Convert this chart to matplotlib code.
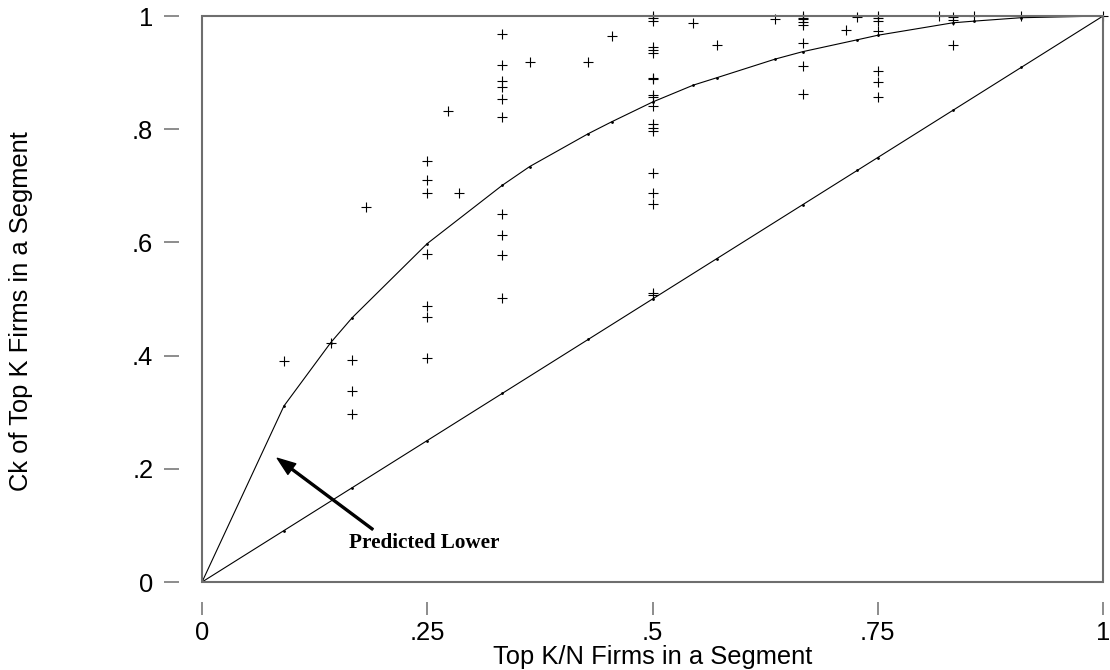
import matplotlib.pyplot as plt
from matplotlib.patches import Rectangle

# observed Ck values for top K of N firms in a segment
obs_x = [1/11, 1/7, 1/6, 1/6, 1/6, 2/11,
         1/4, 1/4, 1/4, 1/4, 1/4, 1/4, 1/4, 3/11, 2/7,
         1/3, 1/3, 1/3, 1/3, 1/3, 1/3, 1/3, 1/3, 1/3, 1/3,
         4/11, 3/7, 5/11,
         1/2, 1/2, 1/2, 1/2, 1/2, 1/2, 1/2, 1/2, 1/2, 1/2,
         1/2, 1/2, 1/2, 1/2, 1/2, 1/2, 1/2, 1/2, 1/2,
         6/11, 4/7, 7/11,
         2/3, 2/3, 2/3, 2/3, 2/3, 2/3, 2/3, 2/3,
         5/7, 8/11,
         3/4, 3/4, 3/4, 3/4, 3/4, 3/4, 3/4,
         9/11, 5/6, 5/6, 5/6, 6/7, 10/11, 1.0]
obs_y = [0.391, 0.423, 0.392, 0.338, 0.296, 0.662,
         0.743, 0.710, 0.688, 0.580, 0.488, 0.469, 0.395, 0.833, 0.687,
         0.968, 0.913, 0.886, 0.874, 0.853, 0.822, 0.650, 0.613, 0.578, 0.502,
         0.918, 0.918, 0.965,
         1.000, 0.996, 0.992, 0.946, 0.940, 0.935, 0.891, 0.889, 0.860, 0.857,
         0.841, 0.809, 0.803, 0.796, 0.722, 0.688, 0.667, 0.511, 0.507,
         0.987, 0.949, 0.995,
         1.000, 0.997, 0.994, 0.990, 0.984, 0.952, 0.912, 0.863,
         0.975, 0.999,
         1.000, 0.996, 0.992, 0.974, 0.903, 0.884, 0.857,
         1.000, 0.998, 0.993, 0.949, 1.000, 1.000, 1.000]

# predicted lower bound curve
curve_x = [0, 1/11, 1/7, 1/6, 1/4, 1/3, 4/11, 3/7, 5/11, 1/2, 6/11, 4/7,
           7/11, 2/3, 8/11, 3/4, 5/6, 6/7, 10/11, 1]
curve_y = [0, 0.311, 0.423, 0.467, 0.598, 0.701, 0.734, 0.792, 0.813, 0.848,
           0.878, 0.891, 0.924, 0.937, 0.958, 0.966, 0.988, 0.991, 0.997, 1.0]

# equality line
diag = [0, 1/11, 1/6, 1/4, 1/3, 3/7, 1/2, 4/7, 2/3, 8/11, 3/4, 5/6, 10/11, 1]

xticks = [0, 0.25, 0.5, 0.75, 1]
xtick_labels = ['0', '.25', '.5', '.75', '1']
yticks = [0, 0.2, 0.4, 0.6, 0.8, 1]
ytick_labels = ['0', '.2', '.4', '.6', '.8', '1']

plt.rcParams['font.family'] = ['Liberation Sans', 'DejaVu Sans']

fig = plt.figure(figsize=(11.1, 6.7), dpi=100)
ax = fig.add_axes([0.182, 0.1313, 0.8117, 0.8448])

ax.plot(diag, diag, color='black', lw=0.8, marker='.', markersize=2)
ax.plot(curve_x, curve_y, color='black', lw=0.8, marker='.', markersize=2)
ax.plot(obs_x, obs_y, ls='none', marker='+', color='black',
        markersize=7, markeredgewidth=0.8, clip_on=False)

ax.set_xlim(0, 1)
ax.set_ylim(0, 1)

# frame drawn separately so ticks can sit away from it
for s in ax.spines.values():
    s.set_visible(False)
ax.add_patch(Rectangle((0, 0), 1, 1, transform=ax.transAxes, fill=False,
                       edgecolor='#6e6e6e', lw=1.5, zorder=5, clip_on=False))
ax.spines['left'].set_position(('outward', 16.6))
ax.spines['bottom'].set_position(('outward', 14.4))

ax.set_xticks(xticks)
ax.set_xticklabels(xtick_labels)
ax.set_yticks(yticks)
ax.set_yticklabels(ytick_labels)
ax.tick_params(axis='y', direction='out', length=11, width=1.1, color='#6e6e6e',
               pad=7.5, labelsize=18.4)
ax.tick_params(axis='x', direction='out', length=9.4, width=1.1, color='#6e6e6e',
               pad=4.2, labelsize=18.4)

fig.text(0.5878, 0.019, 'Top K/N Firms in a Segment', ha='center', va='center',
         fontsize=18.4)
fig.text(0.019, 0.535, 'Ck of Top K Firms in a Segment', ha='center', va='center',
         rotation=90, fontsize=18.4)

ax.annotate('', xy=(0.0836, 0.2186), xytext=(0.1895, 0.093),
            arrowprops=dict(facecolor='black', edgecolor='black', width=1.4,
                            headwidth=9.5, headlength=13, shrink=0))
ax.text(0.247, 0.060, 'Predicted Lower', ha='center', va='baseline',
        fontsize=15.2, fontweight='bold', family=['Liberation Serif', 'DejaVu Serif'])

fig.savefig('out.png', dpi=100)
